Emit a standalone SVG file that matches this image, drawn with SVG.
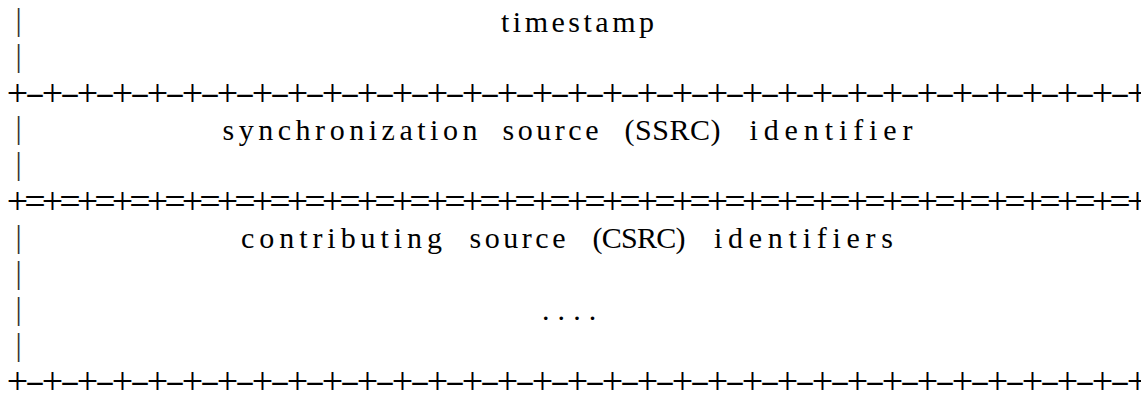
<svg xmlns="http://www.w3.org/2000/svg" width="1141" height="394" viewBox="0 0 1141 394">
<style>
text { font-family: "Liberation Serif", "Times New Roman", serif; fill: #000; }
.word { font-size: 30px; }
.pipe { font-size: 31px; fill: #333; text-anchor: middle; }
.plus { font-size: 38px; text-anchor: middle; }
.dash { font-size: 30px; text-anchor: middle; }
.dots { font-size: 30px; text-anchor: middle; }
</style>
<rect width="1141" height="394" fill="#fff"/>
<g id="connectors">
  <g id="rule-1">
    <text class="plus" y="105.6" x="17.5 52.5 87.5 122.5 157.5 192.5 227.5 262.5 297.5 332.5 367.5 402.5 437.5 472.5 507.5 542.5 577.5 612.5 647.5 682.5 717.5 752.5 787.5 822.5 857.5 892.5 927.5 962.5 997.5 1032.5 1067.5 1102.5 1137.5">+++++++++++++++++++++++++++++++++</text>
    <text class="dash" transform="scale(2 1)" y="102.8" x="17.5 35 52.5 70 87.5 105 122.5 140 157.5 175 192.5 210 227.5 245 262.5 280 297.5 315 332.5 350 367.5 385 402.5 420 437.5 455 472.5 490 507.5 525 542.5 560">--------------------------------</text>
  </g>
  <g id="rule-2">
    <text class="plus" y="213.6" x="17.5 35 52.5 70 87.5 105 122.5 140 157.5 175 192.5 210 227.5 245 262.5 280 297.5 315 332.5 350 367.5 385 402.5 420 437.5 455 472.5 490 507.5 525 542.5 560 577.5 595 612.5 630 647.5 665 682.5 700 717.5 735 752.5 770 787.5 805 822.5 840 857.5 875 892.5 910 927.5 945 962.5 980 997.5 1015 1032.5 1050 1067.5 1085 1102.5 1120 1137.5">+=+=+=+=+=+=+=+=+=+=+=+=+=+=+=+=+=+=+=+=+=+=+=+=+=+=+=+=+=+=+=+=+</text>
  </g>
  <g id="rule-3">
    <text class="plus" y="393.6" x="17.5 52.5 87.5 122.5 157.5 192.5 227.5 262.5 297.5 332.5 367.5 402.5 437.5 472.5 507.5 542.5 577.5 612.5 647.5 682.5 717.5 752.5 787.5 822.5 857.5 892.5 927.5 962.5 997.5 1032.5 1067.5 1102.5 1137.5">+++++++++++++++++++++++++++++++++</text>
    <text class="dash" transform="scale(2 1)" y="390.8" x="17.5 35 52.5 70 87.5 105 122.5 140 157.5 175 192.5 210 227.5 245 262.5 280 297.5 315 332.5 350 367.5 385 402.5 420 437.5 455 472.5 490 507.5 525 542.5 560">--------------------------------</text>
  </g>
  <g id="pipes">
    <text class="pipe" x="18.5" y="30">|</text>
    <text class="pipe" x="18.5" y="66.1">|</text>
    <text class="pipe" x="18.5" y="138.3">|</text>
    <text class="pipe" x="18.5" y="174.4">|</text>
    <text class="pipe" x="18.5" y="246.6">|</text>
    <text class="pipe" x="18.5" y="282.7">|</text>
    <text class="pipe" x="18.5" y="318.8">|</text>
    <text class="pipe" x="18.5" y="354.9">|</text>
  </g>
</g>
<g id="timestamp">
  <text class="word" x="501" y="31.5" textLength="153" lengthAdjust="spacing">timestamp</text>
</g>
<g id="ssrc">
  <text class="word" x="222.5" y="139.5" textLength="255" lengthAdjust="spacing">synchronization</text>
  <text class="word" x="502.5" y="139.5" textLength="96" lengthAdjust="spacing">source</text>
  <text class="word" x="624.5" y="139.5" textLength="96" lengthAdjust="spacing">(SSRC)</text>
  <text class="word" x="749.5" y="139.5" textLength="163" lengthAdjust="spacing">identifier</text>
</g>
<g id="csrc">
  <text class="word" x="241" y="247.5" textLength="201" lengthAdjust="spacing">contributing</text>
  <text class="word" x="469.5" y="247.5" textLength="96" lengthAdjust="spacing">source</text>
  <text class="word" x="592.5" y="247.5" textLength="93" lengthAdjust="spacing">(CSRC)</text>
  <text class="word" x="714" y="247.5" textLength="179" lengthAdjust="spacing">identifiers</text>
  <text class="dots" y="320" x="545.7 561.3 577 592.5">....</text>
</g>
</svg>
